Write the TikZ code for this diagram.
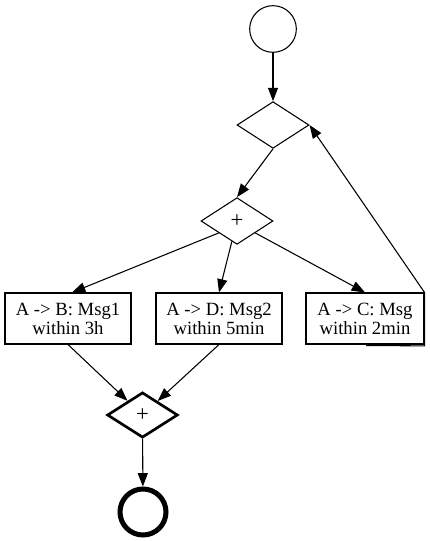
\documentclass[tikz,border=0pt]{standalone}
\usepackage{fontspec}
\setmainfont{Liberation Serif}
\usetikzlibrary{shapes.geometric,arrows.meta}
\begin{document}
\begin{tikzpicture}[x=0.75pt,y=-0.75pt,
  every node/.style={font=\fontsize{14}{14.25}\selectfont},
  base/.style={draw=black,line width=0.8pt,inner sep=0pt},
  startev/.style={base,circle,minimum size=35pt},
  endev/.style={base,circle,minimum size=34.5pt,line width=3.75pt},
  gate/.style={base,diamond,minimum width=54pt,minimum height=35pt},
  joingate/.style={base,diamond,minimum width=53pt,minimum height=34pt,line width=2pt},
  plus/.style={font=\fontsize{17}{17}\selectfont},
  task/.style={base,rectangle,minimum height=38.25pt,align=center},
  arr/.style={draw=black,line width=0.8pt,-{Triangle[length=10pt,width=7.5pt]}}
]
\useasboundingbox (0,0) rectangle (429,541);
\node[startev] (s) at (273,29) {};
\node[gate] (d1) at (273,125) {};
\node[gate,plus] (d2) at (237,221) {+};
\node[task,minimum width=94.5pt] (b1) at (68,318.5) {A -> B: Msg1\\within 3h};
\node[task,minimum width=94.5pt] (b2) at (219,318.5) {A -> D: Msg2\\within 5min};
\node[task,minimum width=88.5pt] (b3) at (365,318.5) {A -> C: Msg\\within 2min};
\node[joingate,plus] (j) at (142.5,415) {+};
\node[endev] (e) at (143,512) {};
\coordinate (tail) at (366,345.5);

\draw[arr] (s) -- (d1);
\draw[arr] (d1.south) -- (d2.north);
\draw[arr] (d2.south west) -- ([xshift=3pt]b1.north);
\draw[arr] (d2) -- (b2.north);
\draw[arr] (d2.south east) -- (b3.north);
\draw[arr] (tail) -- ([yshift=-1pt]b3.south east) -- (b3.north east) -- (d1.east);
\draw[arr] (b1.south) -- (j);
\draw[arr] (b2.south) -- (j);
\draw[arr] (j) -- (e);
\end{tikzpicture}
\end{document}
